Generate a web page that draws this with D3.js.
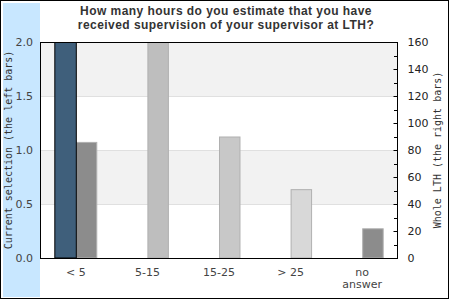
<!DOCTYPE html>
<html>
<head>
<meta charset="utf-8">
<script src="https://cdn.jsdelivr.net/npm/d3@7"></script>
<style>
  body { margin: 0; background: #fff; }
  svg text { font-family: "DejaVu Sans", sans-serif; }
</style>
</head>
<body>
<div id="chart"></div>
<script>
// Data
const categories = ["< 5", "5-15", "15-25", "> 25", "no answer"];
const selectionValues = [2.0, 0, 0, 0, 0];
const lthValues = [86, 160, 90, 51, 22];
const lthColors = ["#8c8c8c", "#bebebe", "#c8c8c8", "#d8d8d8", "#8c8c8c"];
const leftTicks = [0, 0.5, 1.0, 1.5, 2.0];
const rightTicks = [0, 20, 40, 60, 80, 100, 120, 140, 160];
const titleLines = [
  "How many hours do you estimate that you have",
  "received supervision of your supervisor at LTH?"
];

// Constants
const width = 450;
const height = 300;
const plot = { left: 40, right: 398, top: 42, bottom: 258 };

const svg = d3.select("#chart")
  .append("svg")
  .attr("width", width)
  .attr("height", height);

// left blue panel
svg.append("rect")
  .attr("x", 3).attr("y", 3)
  .attr("width", 37).attr("height", 294)
  .attr("fill", "#c8e7ff");

// outer frame
svg.append("rect")
  .attr("x", 0.5).attr("y", 0.5)
  .attr("width", 448).attr("height", 298)
  .attr("fill", "none")
  .attr("stroke", "#000");

//-----------------------------SCALES-----------------------------//
const x = d3.scaleBand()
  .domain(categories)
  .range([plot.left, plot.right]);

const yLeft = d3.scaleLinear().domain([0, 2]).range([plot.bottom, plot.top]);
const yRight = d3.scaleLinear().domain([0, 160]).range([plot.bottom, plot.top]);

const barW = x.bandwidth() * 0.3;

//-----------------------------BANDS-----------------------------//
const bands = d3.pairs(leftTicks);
svg.append("g")
  .selectAll("rect")
  .data(bands)
  .enter()
  .append("rect")
  .attr("x", plot.left)
  .attr("width", plot.right - plot.left)
  .attr("y", d => yLeft(d[1]))
  .attr("height", d => yLeft(d[0]) - yLeft(d[1]))
  .attr("fill", (d, i) => i % 2 === 1 ? "#f2f2f2" : "#fff");

svg.append("g")
  .selectAll("line")
  .data(leftTicks.slice(1, -1))
  .enter()
  .append("line")
  .attr("x1", plot.left).attr("x2", plot.right)
  .attr("y1", d => Math.round(yLeft(d)) + 0.5)
  .attr("y2", d => Math.round(yLeft(d)) + 0.5)
  .attr("stroke", "#e0e0e0");

//-----------------------------BARS-----------------------------//
const center = d => x(d) + x.bandwidth() / 2;

svg.append("g")
  .selectAll("rect")
  .data(categories.map((c, i) => ({ c: c, v: lthValues[i], col: lthColors[i] })))
  .enter()
  .append("rect")
  .attr("x", d => center(d.c) + 0.5)
  .attr("y", d => yRight(d.v) + 0.5)
  .attr("width", barW - 1)
  .attr("height", d => yRight(0) - yRight(d.v) - 0.5)
  .attr("fill", d => d.col)
  .attr("stroke", "#b0b0b0");

svg.append("g")
  .selectAll("rect")
  .data(categories.map((c, i) => ({ c: c, v: selectionValues[i] })).filter(d => d.v > 0))
  .enter()
  .append("rect")
  .attr("x", d => center(d.c) - barW + 0.5)
  .attr("y", d => yLeft(d.v) + 0.5)
  .attr("width", barW)
  .attr("height", d => yLeft(0) - yLeft(d.v) - 0.5)
  .attr("fill", "#3f5f7b")
  .attr("stroke", "#000");

// plot frame
svg.append("rect")
  .attr("x", plot.left + 0.5).attr("y", plot.top + 0.5)
  .attr("width", plot.right - plot.left - 1)
  .attr("height", plot.bottom - plot.top)
  .attr("fill", "none")
  .attr("stroke", "#000");

//-----------------------------AXES-----------------------------//
const leftAxis = d3.axisLeft(yLeft)
  .tickValues(leftTicks)
  .tickFormat(d3.format(".1f"))
  .tickSize(0)
  .tickPadding(7);

svg.append("g")
  .attr("transform", `translate(${plot.left},0)`)
  .call(leftAxis)
  .call(g => g.select(".domain").remove())
  .selectAll("text")
  .attr("fill", "#444")
  .style("font-size", "11px");

const rightAxis = d3.axisRight(yRight)
  .tickValues(rightTicks)
  .tickSize(-4)
  .tickPadding(10);

svg.append("g")
  .attr("transform", `translate(${plot.right - 0.5},0)`)
  .call(rightAxis)
  .call(g => g.select(".domain").remove())
  .call(g => g.selectAll("text").attr("fill", "#222").style("font-size", "11px"));

// minor ticks on right
svg.append("g")
  .selectAll("line")
  .data(d3.range(10, 160, 20))
  .enter()
  .append("line")
  .attr("x1", plot.right - 4).attr("x2", plot.right)
  .attr("y1", d => Math.round(yRight(d)) + 0.5)
  .attr("y2", d => Math.round(yRight(d)) + 0.5)
  .attr("stroke", "#000");

const bottomAxis = d3.axisBottom(x).tickSize(0).tickPadding(10);
svg.append("g")
  .attr("transform", `translate(0,${plot.bottom})`)
  .call(bottomAxis)
  .call(g => g.select(".domain").remove())
  .selectAll("text")
  .attr("fill", "#444")
  .style("font-size", "11px")
  .each(function (d) {
    const parts = d.split(" ");
    if (d === "no answer") {
      const t = d3.select(this).text(null);
      parts.forEach((p, i) => {
        t.append("tspan").attr("x", 0).attr("dy", i === 0 ? "0.71em" : "1.1em").text(p);
      });
    }
  });

//-----------------------------LABELS-----------------------------//
svg.append("text")
  .attr("transform", `translate(12,${(plot.top + plot.bottom) / 2}) rotate(-90)`)
  .attr("text-anchor", "middle")
  .style("font-family", "'DejaVu Sans Mono', monospace")
  .style("font-size", "10px")
  .attr("fill", "#333")
  .text("Current selection (the left bars)");

svg.append("text")
  .attr("transform", `translate(441,${(plot.top + plot.bottom) / 2}) rotate(-90)`)
  .attr("text-anchor", "middle")
  .style("font-family", "'DejaVu Sans Mono', monospace")
  .style("font-size", "10px")
  .attr("fill", "#333")
  .text("Whole LTH (the right bars)");

svg.append("g")
  .selectAll("text")
  .data(titleLines)
  .enter()
  .append("text")
  .attr("x", 226)
  .attr("y", (d, i) => 15 + i * 14)
  .attr("text-anchor", "middle")
  .style("font-family", "'Liberation Sans', Arial, sans-serif")
  .style("font-weight", "bold")
  .style("font-size", "12px")
  .style("letter-spacing", "0.45px")
  .attr("fill", "#333")
  .text(d => d);
</script>
</body>
</html>
